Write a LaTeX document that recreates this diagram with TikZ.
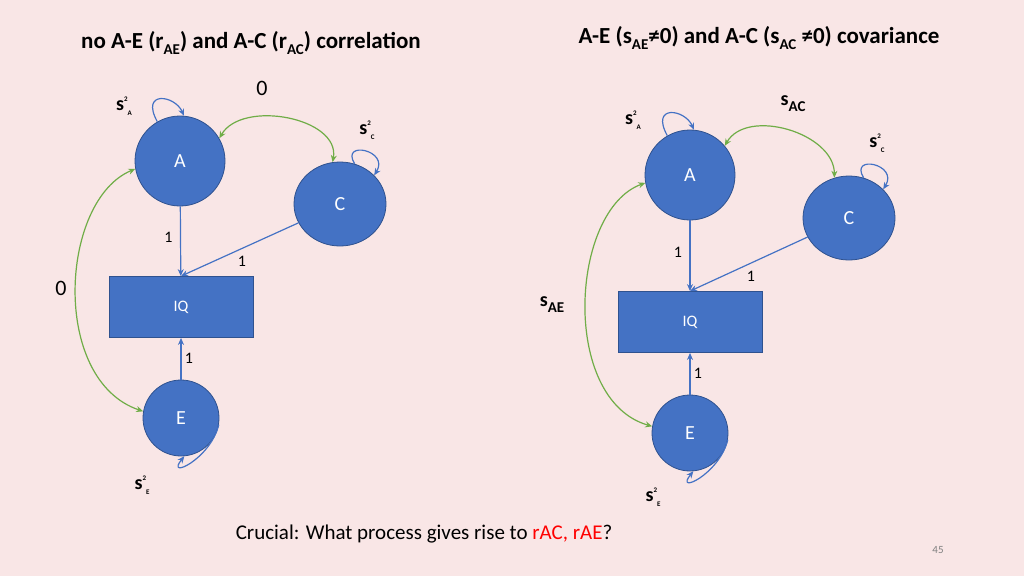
\documentclass[tikz,border=0pt]{standalone}
\usepackage{fontspec}
\setmainfont{Carlito}
\usetikzlibrary{arrows.meta,shapes.geometric}
\definecolor{bg}{HTML}{F9E6E6}
\definecolor{nodefill}{HTML}{4472C4}
\definecolor{nodeedge}{HTML}{2F528F}
\definecolor{gr}{HTML}{70AD47}
\newcommand{\sv}[2]{s\raisebox{0.45em}{\scriptsize\bfseries #1}\raisebox{-0.25em}{\scriptsize\bfseries #2}}
\tikzset{
 lat/.style={circle,fill=nodefill,draw=nodeedge,line width=0.8pt,text=white,font=\fontsize{20}{20}\selectfont},
 obs/.style={rectangle,fill=nodefill,draw=nodeedge,line width=0.8pt,text=white,minimum width=144pt,minimum height=61pt,font=\fontsize{16}{16}\selectfont},
 path/.style={draw=nodefill,line width=1.2pt,-{Stealth[length=7pt,width=6pt]}},
 cov/.style={draw=gr,line width=1.2pt,{Stealth[length=7pt,width=6pt]}-{Stealth[length=7pt,width=6pt]}},
 lab/.style={font=\fontsize{16}{16}\selectfont},
 vlab/.style={font=\bfseries\fontsize{20}{20}\selectfont},
}
\begin{document}
\begin{tikzpicture}[x=1pt,y=-1pt]
\fill[bg] (0,0) rectangle (1024,576);
\useasboundingbox (0,0) rectangle (1024,576);
% titles
\node[font=\bfseries\fontsize{23}{23}\selectfont] (t1) at (251,43) {no A-E (r\raisebox{-0.3em}{\fontsize{15}{15}\selectfont AE}) and A-C (r\raisebox{-0.3em}{\fontsize{15}{15}\selectfont AC}) correlation};
\node[font=\bfseries\fontsize{23}{23}\selectfont] (t2) at (759,38) {A-E (s\raisebox{-0.3em}{\fontsize{15}{15}\selectfont AE}≠0) and A-C (s\raisebox{-0.3em}{\fontsize{15}{15}\selectfont AC} ≠0) covariance};
% left
\node[lat,minimum size=90pt] (A1) at (180,161) {A};
\node[lat,ellipse,minimum width=92pt,minimum height=84pt,inner sep=0pt] (C1) at (340,204) {C};
\node[obs] (IQ1) at (181,307) {IQ};
\node[lat,minimum size=76pt] (E1) at (181,418) {E};
\draw[path] (A1) -- node[lab,left,pos=0.45,xshift=-4pt] {1} (IQ1);
\draw[path] (C1) -- node[lab,below right,pos=0.55] {1} (IQ1.north);
\draw[path] (E1) -- node[lab,right,pos=0.5] {1} (IQ1);
\draw[cov] (A1.30) to[out=60,in=80,looseness=1.0] (C1.100);
\node[lab,font=\fontsize{22}{22}\selectfont] at (262,88) {0};
\draw[cov] (A1.190) .. controls (60,200) and (50,380) .. (E1.170);
\node[lab,font=\fontsize{22}{22}\selectfont] at (61,288) {0};
\draw[path] (A1.120) .. controls (140,90) and (175,95) .. (A1.85);
\draw[path] (C1.70) .. controls (340,140) and (390,150) .. (C1.40);
\draw[path] (E1.-10) .. controls (210,460) and (165,480) .. (E1.-85);
\node[vlab] at (124,106) {\sv{2}{A}};
\node[vlab] at (367,130) {\sv{2}{C}};
\node[vlab] at (142,485) {\sv{2}{E}};
% right
\node[lat,minimum size=90pt] (A2) at (690,175) {A};
\node[lat,ellipse,minimum width=92pt,minimum height=84pt,inner sep=0pt] (C2) at (849,218) {C};
\node[obs] (IQ2) at (690,322) {IQ};
\node[lat,minimum size=76pt] (E2) at (690,433) {E};
\draw[path] (A2) -- node[lab,left,pos=0.45,xshift=-4pt] {1} (IQ2);
\draw[path] (C2) -- node[lab,below right,pos=0.55] {1} (IQ2.north);
\draw[path] (E2) -- node[lab,right,pos=0.5] {1} (IQ2);
\draw[cov] (A2.40) to[out=60,in=90,looseness=1.0] (C2.110);
\node[vlab] at (793,104) {s\raisebox{-0.3em}{\fontsize{15}{15}\selectfont AC}};
\draw[cov] (A2.190) .. controls (570,210) and (560,400) .. (E2.170);
\node[vlab] at (552,305) {s\raisebox{-0.3em}{\fontsize{15}{15}\selectfont AE}};
\draw[path] (A2.120) .. controls (650,104) and (685,109) .. (A2.85);
\draw[path] (C2.70) .. controls (849,154) and (899,164) .. (C2.40);
\draw[path] (E2.-10) .. controls (719,475) and (674,495) .. (E2.-85);
\node[vlab] at (633,120) {\sv{2}{A}};
\node[vlab] at (877,143) {\sv{2}{C}};
\node[vlab] at (653,497) {\sv{2}{E}};
% bottom
\node[font=\fontsize{21}{21}\selectfont] (q) at (424,534) {Crucial: What process gives rise to \textcolor{red}{rAC, rAE}?};
\node[font=\fontsize{11}{11}\selectfont,text=gray] (pg) at (938,550) {45};
\end{tikzpicture}
\end{document}
